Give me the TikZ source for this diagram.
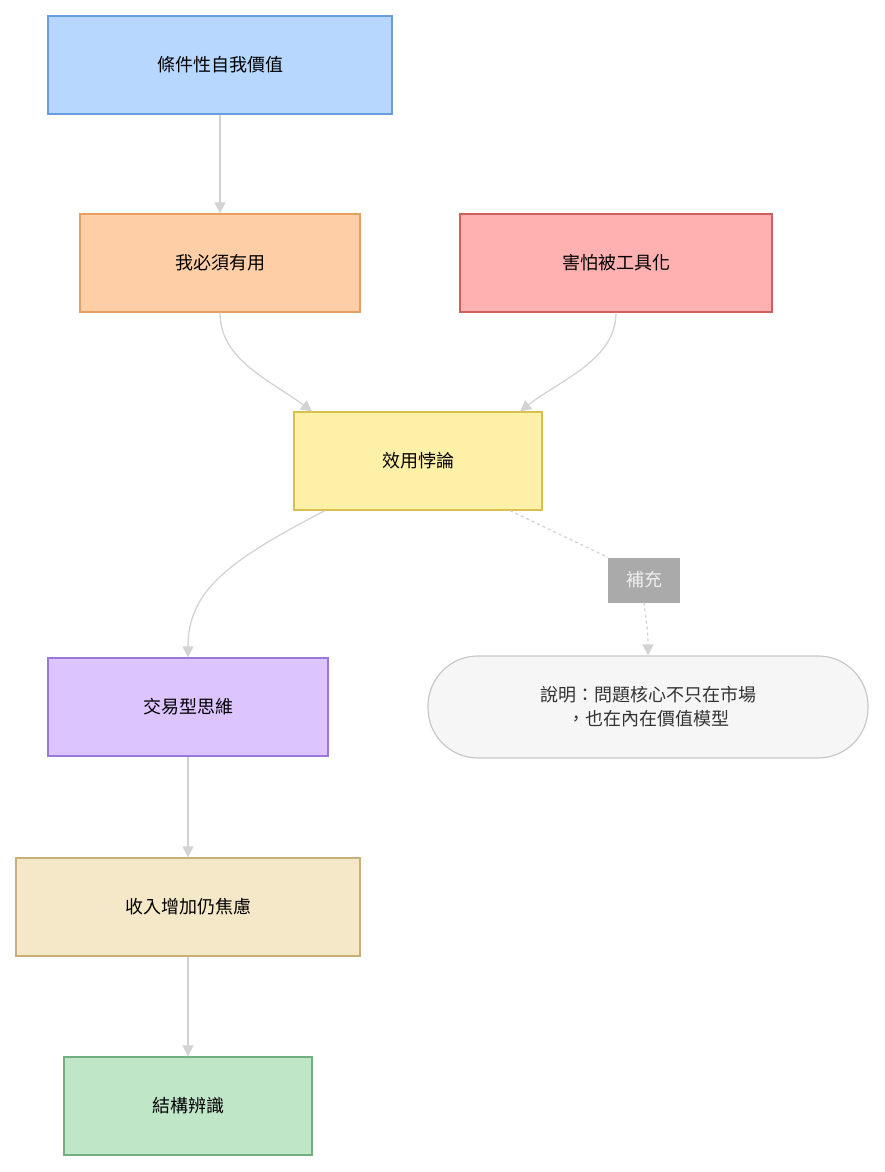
\documentclass[tikz,border=0pt]{standalone}
\usepackage{fontspec}
\setmainfont{Noto Sans CJK TC}
\usetikzlibrary{arrows.meta}
\definecolor{eg}{HTML}{D3D3D3}
\begin{document}
\begin{tikzpicture}[x=1pt,y=-1pt,
 box/.style={draw,line width=1.2pt,minimum width=#1,minimum height=98pt,inner sep=0pt,font=\fontsize{18}{22}\selectfont},
 e/.style={draw=eg,line width=1.3pt,-{Triangle[length=11pt,width=11pt]}}]
\useasboundingbox (0,0) rectangle (884,1172);
\node[box=344pt,fill={rgb,255:red,183;green,215;blue,255},draw={rgb,255:red,106;green,157;blue,224}] (a) at (220,65) {條件性自我價值};
\node[box=280pt,fill={rgb,255:red,254;green,207;blue,166},draw={rgb,255:red,232;green,160;blue,96}] (b) at (220,263) {我必須有用};
\node[box=312pt,fill={rgb,255:red,255;green,176;blue,176},draw={rgb,255:red,208;green,96;blue,96}] (c) at (616,263) {害怕被工具化};
\node[box=248pt,fill={rgb,255:red,255;green,240;blue,168},draw={rgb,255:red,216;green,192;blue,80}] (d) at (418,461) {效用悖論};
\node[box=280pt,fill={rgb,255:red,220;green,196;blue,255},draw={rgb,255:red,154;green,120;blue,216}] (e) at (188,707) {交易型思維};
\node[box=344pt,fill={rgb,255:red,245;green,232;blue,200},draw={rgb,255:red,200;green,176;blue,120}] (f) at (188,907) {收入增加仍焦慮};
\node[box=248pt,fill={rgb,255:red,192;green,230;blue,200},draw={rgb,255:red,112;green,176;blue,128}] (g) at (188,1106) {結構辨識};
\node[draw={rgb,255:red,200;green,200;blue,200},line width=1.2pt,fill={rgb,255:red,246;green,246;blue,246},rounded corners=50pt,minimum width=440pt,minimum height=102pt,align=center,text={rgb,255:red,51;green,51;blue,51},font=\fontsize{18}{24}\selectfont] (n) at (648,707) {說明：問題核心不只在市場\\，也在內在價值模型};
\node[fill={rgb,255:red,170;green,170;blue,170},text={rgb,255:red,240;green,240;blue,240},minimum width=72pt,minimum height=45pt,inner sep=0pt,font=\fontsize{18}{22}\selectfont] (l) at (644,580) {補充};
\draw[e] (a) -- (b);
\draw[e] (b.south) .. controls (220,360) and (270,380) .. ([xshift=-106pt]d.north);
\draw[e] (c.south) .. controls (616,360) and (560,380) .. ([xshift=102pt]d.north);
\draw[e] ([xshift=-93pt]d.south) .. controls (230,560) and (188,590) .. (e.north);
\draw[e] (e) -- (f);
\draw[e] (f) -- (g);
\draw[draw=eg,line width=1.3pt,dashed] ([xshift=92pt]d.south) -- (l.north west);
\draw[e,dashed] (l.south) .. controls (646,620) and (648,630) .. (n.north);
\end{tikzpicture}
\end{document}
